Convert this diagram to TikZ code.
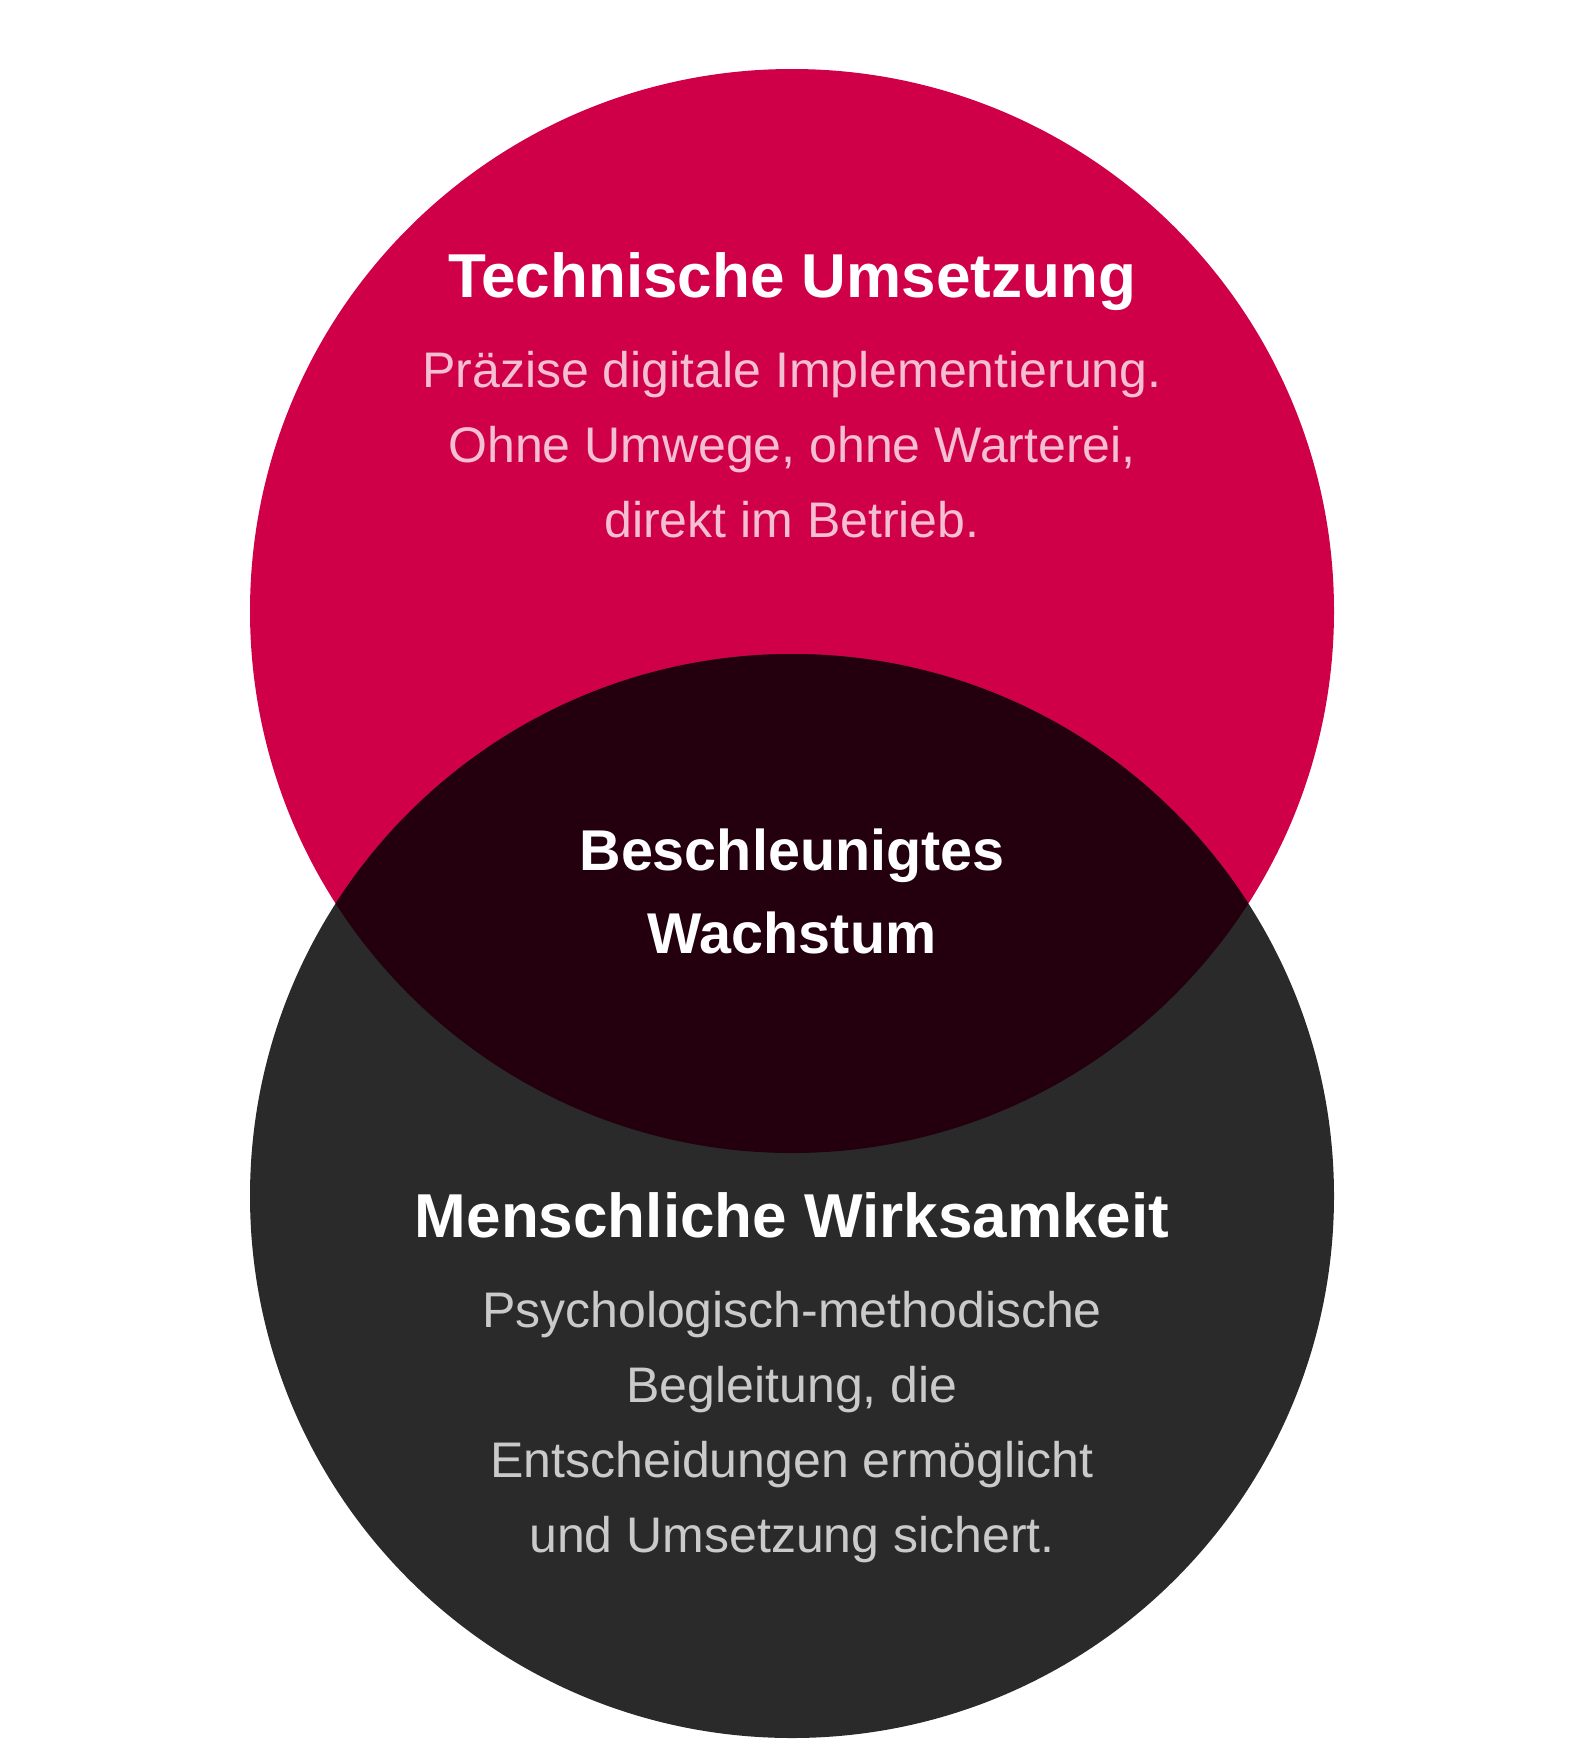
\documentclass[tikz,border=0pt]{standalone}
\usepackage{fontspec}
\setmainfont{Liberation Sans}
\definecolor{techred}{RGB}{208,0,72}
\definecolor{humangray}{RGB}{42,42,42}
\definecolor{overlapdark}{RGB}{36,0,15}
\definecolor{techtext}{RGB}{243,191,209}
\definecolor{humantext}{RGB}{202,202,202}
\tikzset{
	headline/.style={text=white,font=\fontsize{62}{62}\selectfont\bfseries,anchor=base,inner sep=0pt},
	midline/.style={text=white,font=\fontsize{57.5}{83}\selectfont\bfseries,align=center,anchor=base,inner sep=0pt},
	bodytext/.style={font=\fontsize{50}{75}\selectfont,align=center,anchor=base,inner sep=0pt}
}
\begin{document}
\begin{tikzpicture}[x=1pt,y=-1pt]
\useasboundingbox (0,0) rectangle (1583,1759);
%circles
\fill[techred] (792,611) circle (542);
\fill[humangray] (792,1196) circle (542);
\begin{scope}
	\clip (792,611) circle (542);
	\fill[overlapdark] (792,1196) circle (542);
\end{scope}
%top circle (base = last line)
\path (792,297) node[headline] (tech) {Technische Umsetzung};
\path (792,537) node[bodytext,text=techtext] (techtxt) {Präzise digitale Implementierung.\\Ohne Umwege, ohne Warterei,\\direkt im Betrieb.};
%overlap
\path (792,953) node[midline] (mid) {Beschleunigtes\\Wachstum};
%bottom circle
\path (792,1237) node[headline] (human) {Menschliche Wirksamkeit};
\path (792,1552) node[bodytext,text=humantext] (humantxt) {Psychologisch-methodische\\Begleitung, die\\Entscheidungen ermöglicht\\und Umsetzung sichert.};
\end{tikzpicture}
\end{document}
